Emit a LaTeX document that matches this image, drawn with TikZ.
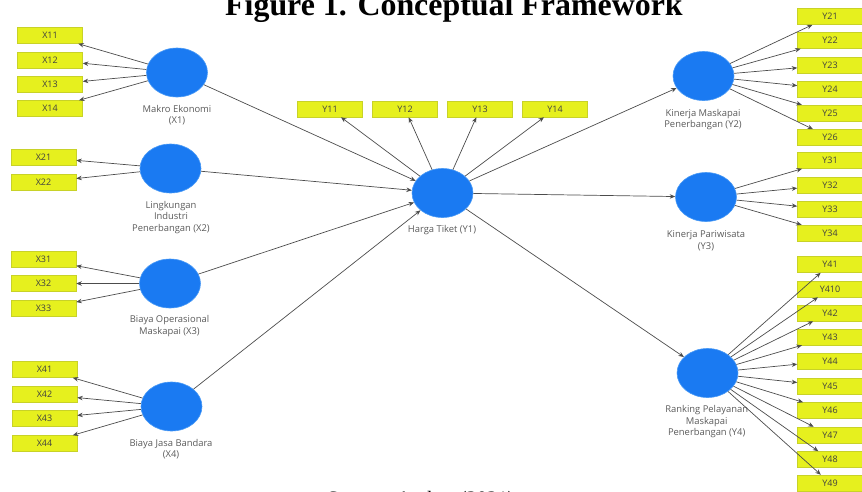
\documentclass[tikz,border=0pt]{standalone}
\usepackage{fontspec}
\setmainfont{Liberation Serif}
\setsansfont{Open Sans}
\usetikzlibrary{shapes.geometric,arrows.meta}
\definecolor{lvblue}{HTML}{1A7AF2}
\definecolor{lvedge}{HTML}{4A9AF5}
\definecolor{indyel}{HTML}{E6F01E}
\definecolor{indedge}{HTML}{C8D228}
\definecolor{lbl}{HTML}{5A5A5A}
\begin{document}
\begin{tikzpicture}[x=1pt,y=-1pt,
  lv/.style={ellipse,fill=lvblue,draw=lvedge,line width=0.6pt,minimum width=61pt,minimum height=49pt,inner sep=0pt},
  ind/.style={rectangle,fill=indyel,draw=indedge,line width=0.5pt,minimum width=65pt,minimum height=16pt,inner sep=0pt,font=\sffamily\fontsize{9}{10}\selectfont,text=black!75},
  lvlabel/.style={align=center,font=\sffamily\fontsize{9.4}{11.5}\selectfont,text=lbl,inner sep=0pt},
  conn/.style={draw=black!70,line width=0.7pt,-{Stealth[length=5.5pt,width=4.5pt]}}]
\useasboundingbox (0,0) rectangle (862,491);
\clip (0,0) rectangle (862,491);
% title and source
\node[anchor=base west,inner sep=0pt,font=\bfseries\fontsize{31.9}{34}\selectfont] (title) at (225,15) {Figure 1. Conceptual Framework};
\node[anchor=base west,inner sep=0pt,font=\fontsize{20.5}{22}\selectfont] (source) at (327,505) {Source: Author (2021)};
% latent variables
\node[lv] (X1) at (177,72.5) {};
\node[lv] (X2) at (170.5,168.5) {};
\node[lv] (X3) at (170,283.5) {};
\node[lv] (X4) at (171.5,406.5) {};
\node[lv] (Y1) at (442.5,193) {};
\node[lv] (Y2) at (703.5,76) {};
\node[lv] (Y3) at (706,197) {};
\node[lv] (Y4) at (707.5,373) {};
% labels
\node[lvlabel] (lX1) at (177,115) {Makro Ekonomi\\(X1)};
\node[lvlabel] (lX2) at (171,217.5) {Lingkungan\\Industri\\Penerbangan (X2)};
\node[lvlabel] (lX3) at (169.5,326) {Biaya Operasional\\Maskapai (X3)};
\node[lvlabel] (lX4) at (171,449) {Biaya Jasa Bandara\\(X4)};
\node[lvlabel] (lY1) at (442,230) {Harga Tiket (Y1)};
\node[lvlabel] (lY2) at (703,119.5) {Kinerja Maskapai\\Penerbangan (Y2)};
\node[lvlabel] (lY3) at (706,241) {Kinerja Pariwisata\\(Y3)};
\node[lvlabel] (lY4) at (706.7,422) {Ranking Pelayanan\\Maskapai\\Penerbangan (Y4)};
% indicators
\foreach \n/\y in {X11/35.5,X12/60,X13/84.5,X14/108.5}{\node[ind] (\n) at (50,\y) {\n};}
\foreach \n/\y in {X21/157.5,X22/182}{\node[ind] (\n) at (43.5,\y) {\n};}
\foreach \n/\y in {X31/259.5,X32/283.5,X33/308.5}{\node[ind] (\n) at (43.5,\y) {\n};}
\foreach \n/\y in {X41/369.5,X42/394.5,X43/418.5,X44/443.5}{\node[ind] (\n) at (44.5,\y) {\n};}
\foreach \n/\x in {Y11/330,Y12/405,Y13/480,Y14/555}{\node[ind] (\n) at (\x,109) {\n};}
\foreach \n/\y in {Y21/16.5,Y22/40.5,Y23/65,Y24/89,Y25/113,Y26/137.5}{\node[ind] (\n) at (830,\y) {\n};}
\foreach \n/\y in {Y31/160.5,Y32/185,Y33/209.5,Y34/233}{\node[ind] (\n) at (830,\y) {\n};}
\foreach \n/\y in {Y41/264.5,Y410/289,Y42/313,Y43/337,Y44/361,Y45/386,Y46/410.5,Y47/435,Y48/459.5,Y49/483}{\node[ind] (\n) at (830,\y) {\n};}
% measurement arrows
\foreach \n in {X11,X12,X13,X14}{\draw[conn] (X1) -- (\n);}
\foreach \n in {X21,X22}{\draw[conn] (X2) -- (\n);}
\foreach \n in {X31,X32,X33}{\draw[conn] (X3) -- (\n);}
\foreach \n in {X41,X42,X43,X44}{\draw[conn] (X4) -- (\n);}
\foreach \n in {Y11,Y12,Y13,Y14}{\draw[conn] (Y1) -- (\n);}
\foreach \n in {Y21,Y22,Y23,Y24,Y25,Y26}{\draw[conn] (Y2) -- (\n);}
\foreach \n in {Y31,Y32,Y33,Y34}{\draw[conn] (Y3) -- (\n);}
\foreach \n in {Y41,Y410,Y42,Y43,Y44,Y45,Y46,Y47,Y48,Y49}{\draw[conn] (Y4) -- (\n);}
% structural arrows
\foreach \n in {X1,X2,X3,X4}{\draw[conn] (\n) -- (Y1);}
\foreach \n in {Y2,Y3,Y4}{\draw[conn] (Y1) -- (\n);}
\end{tikzpicture}
\end{document}
